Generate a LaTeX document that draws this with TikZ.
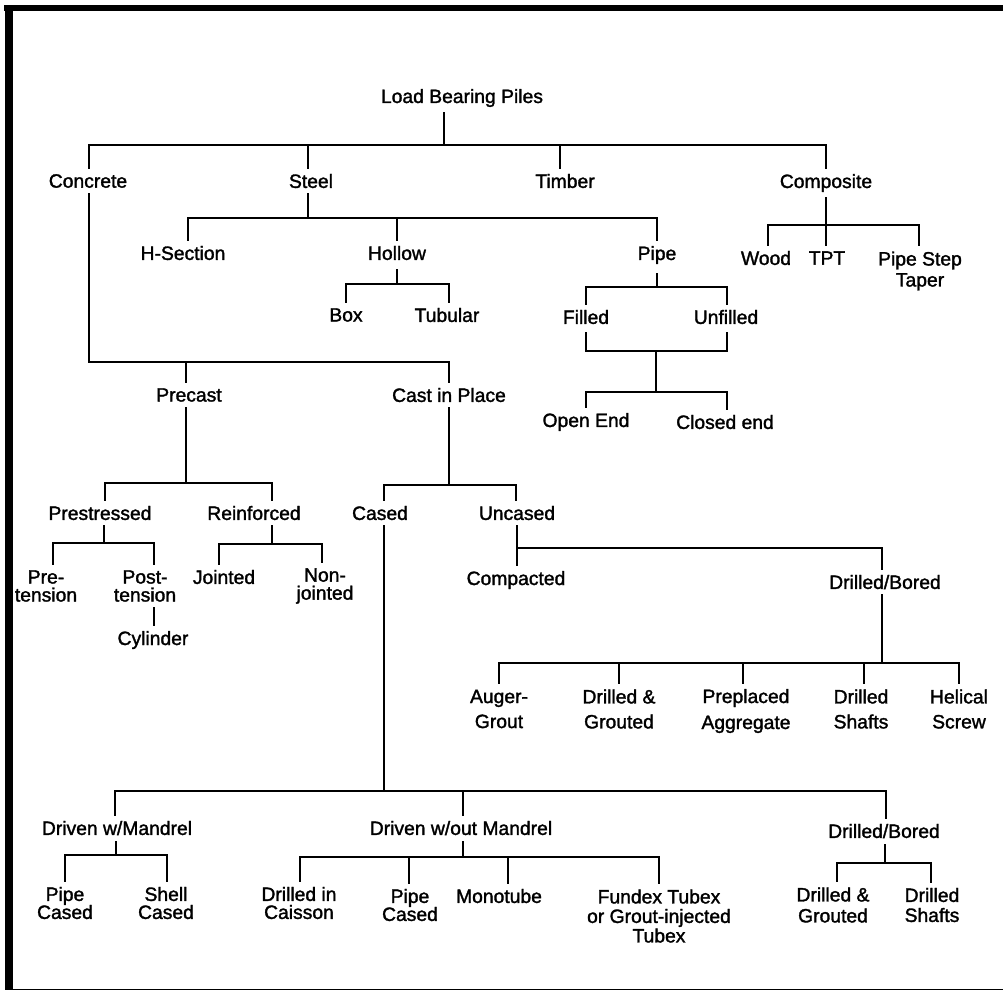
\documentclass[tikz,border=0pt]{standalone}
\usepackage{fontspec}
\newfontfamily\lblfont{Liberation Sans}[BoldFont=Liberation Sans, BoldFeatures={FakeBold=1.6}]
\newcommand\mydrop[2]{\draw[ln] (#1.north -| #2) -- (#2);}
\newcommand\myrise[2]{\draw[ln] (#1.south -| #2) -- (#2);}
\begin{document}
\begin{tikzpicture}[x=1pt,y=-1pt,
  lab/.style={font=\lblfont\bfseries\fontsize{19.3}{#1}\selectfont, inner sep=0pt, outer ysep=6pt, align=center},
  lab/.default=19,
  ln/.style={line width=1.2pt, line cap=rect}]
\useasboundingbox (0,0) rectangle (1003,991);
% frame
\fill (4,5) rectangle (1003,11);
\fill (5,5) rectangle (13,990);
\draw[line width=1.6pt] (13,989.5) -- (1003,989.5);

% ---------- nodes ----------
\node[lab] (lbp) at (462,98) {Load Bearing Piles};
\node[lab] (concrete) at (88,181) {Concrete};
\node[lab] (steel) at (311,181) {Steel};
\node[lab] (timber) at (565,181) {Timber};
\node[lab] (composite) at (826,183) {Composite};

\node[lab] (hsec) at (183,253) {H-Section};
\node[lab] (hollow) at (397,253) {Hollow};
\node[lab] (pipe) at (657,255) {Pipe};
\node[lab] (wood) at (766,258) {Wood};
\node[lab] (tpt) at (827,258) {TPT};
\node[lab=21] (pipestep) at (920,271) {Pipe Step\\Taper};

\node[lab] (box) at (346,315) {Box};
\node[lab] (tubular) at (447,315) {Tubular};
\node[lab] (filled) at (586,317) {Filled};
\node[lab] (unfilled) at (726,317) {Unfilled};
\node[lab] (openend) at (586,422) {Open End};
\node[lab] (closedend) at (725,422) {Closed end};

\node[lab] (precast) at (189,395) {Precast};
\node[lab] (cip) at (449,395) {Cast in Place};

\node[lab] (prestressed) at (100,513) {Prestressed};
\node[lab] (reinforced) at (254,513) {Reinforced};
\node[lab] (cased) at (380,513) {Cased};
\node[lab] (uncased) at (517,513) {Uncased};

\node[lab=18] (pre) at (46,586) {Pre-\\tension};
\node[lab=18] (post) at (145,586) {Post-\\tension};
\node[lab] (cylinder) at (153,640) {Cylinder};
\node[lab] (jointed) at (224,577) {Jointed};
\node[lab=18] (nonj) at (325,586) {Non-\\jointed};

\node[lab] (compacted) at (516,580) {Compacted};
\node[lab] (db1) at (885,582) {Drilled/Bored};

\node[lab=25] (auger) at (499,709) {Auger-\\Grout};
\node[lab=25] (dg1) at (619,709) {Drilled \&\\Grouted};
\node[lab=26] (preplaced) at (746,711) {Preplaced\\Aggregate};
\node[lab=25] (ds1) at (861,709) {Drilled\\Shafts};
\node[lab=25] (helical) at (959,709) {Helical\\Screw};

\node[lab] (dwm) at (117,828) {Driven w/Mandrel};
\node[lab] (dwom) at (461,828) {Driven w/out Mandrel};
\node[lab] (db2) at (884,831) {Drilled/Bored};

\node[lab=18] (pipec1) at (65,903) {Pipe\\Cased};
\node[lab=18] (shellc) at (166,903) {Shell\\Cased};
\node[lab=18] (dic) at (299,903) {Drilled in\\Caisson};
\node[lab=18] (pipec2) at (410,905) {Pipe\\Cased};
\node[lab] (monotube) at (499,896) {Monotube};
\node[lab=19.5] (fundex) at (659,916) {Fundex Tubex\\or Grout-injected\\Tubex};
\node[lab=21] (dg2) at (833,905) {Drilled \&\\Grouted};
\node[lab=20] (ds2) at (932,905) {Drilled\\Shafts};

% ---------- connectors ----------
% Load Bearing Piles
\coordinate (jlbp) at (444,145);
\coordinate (jcon) at (89,145);
\coordinate (jste) at (308,145);
\coordinate (jtim) at (560,145);
\coordinate (jcom) at (826,145);
\myrise{lbp}{jlbp}
\draw[ln] (jcon) -- (jcom);
\mydrop{concrete}{jcon}
\mydrop{steel}{jste}
\mydrop{timber}{jtim}
\mydrop{composite}{jcom}

% Steel
\coordinate (sst) at (308,218);
\coordinate (shs) at (188,218);
\coordinate (sho) at (397,218);
\coordinate (spi) at (657,218);
\myrise{steel}{sst}
\draw[ln] (shs) -- (spi);
\mydrop{hsec}{shs}
\mydrop{hollow}{sho}
\mydrop{pipe}{spi}

% Composite
\coordinate (cwo) at (768,225);
\coordinate (ctp) at (826,225);
\coordinate (cps) at (919,225);
\myrise{composite}{ctp}
\draw[ln] (cwo) -- (cps);
\mydrop{wood}{cwo}
\mydrop{tpt}{ctp}
\mydrop{pipestep}{cps}

% Hollow
\coordinate (hho) at (397,284);
\coordinate (hbo) at (346,284);
\coordinate (htu) at (449,284);
\draw[ln] ([yshift=-4pt]hollow.south -| hho) -- (hho);
\draw[ln] (hbo) -- (htu);
\mydrop{box}{hbo}
\mydrop{tubular}{htu}

% Pipe
\coordinate (ppi) at (657,287);
\coordinate (pfi) at (586,287);
\coordinate (pun) at (727,287);
\draw[ln] ([yshift=-4pt]pipe.south -| ppi) -- (ppi);
\draw[ln] (pfi) -- (pun);
\mydrop{filled}{pfi}
\mydrop{unfilled}{pun}
\coordinate (mfi) at (586,351);
\coordinate (mun) at (727,351);
\coordinate (mmi) at (656,351);
\coordinate (nmi) at (656,392);
\coordinate (nop) at (586,392);
\coordinate (ncl) at (727,392);
\draw[ln] ([yshift=-3pt]filled.south -| mfi) -- (mfi) -- (mun) -- ([yshift=-3pt]unfilled.south -| mun);
\draw[ln] (mmi) -- (nmi);
\draw[ln] (nop) -- (ncl);
\mydrop{openend}{nop}
\mydrop{closedend}{ncl}

% Concrete
\coordinate (kco) at (89,362);
\coordinate (kpr) at (186,362);
\coordinate (kci) at (449,362);
\draw[ln] (concrete.south -| kco) -- (kco) -- (kci);
\mydrop{precast}{kpr}
\mydrop{cip}{kci}

% Precast
\coordinate (qpc) at (186,483);
\coordinate (qps) at (105,483);
\coordinate (qre) at (272,483);
\myrise{precast}{qpc}
\draw[ln] (qps) -- (qre);
\mydrop{prestressed}{qps}
\mydrop{reinforced}{qre}

% Cast in Place
\coordinate (rci) at (449,485);
\coordinate (rca) at (384,485);
\coordinate (run) at (516,485);
\myrise{cip}{rci}
\draw[ln] (rca) -- (run);
\mydrop{cased}{rca}
\mydrop{uncased}{run}

% Prestressed
\coordinate (tps) at (104,543);
\coordinate (tpr) at (53,543);
\coordinate (tpo) at (154,543);
\myrise{prestressed}{tps}
\draw[ln] (tpr) -- (tpo);
\mydrop{pre}{tpr}
\mydrop{post}{tpo}
\coordinate (tcy) at (154,620);
\draw[ln] (post.south -| tcy) -- (cylinder.north -| tcy);

% Reinforced
\coordinate (ure) at (272,544);
\coordinate (ujo) at (219,544);
\coordinate (uno) at (322,544);
\myrise{reinforced}{ure}
\draw[ln] (ujo) -- (uno);
\mydrop{jointed}{ujo}
\mydrop{nonj}{uno}

% Uncased
\coordinate (vun) at (517,548);
\coordinate (vdb) at (882,548);
\draw[ln] (uncased.south -| vun) -- (compacted.north -| vun);
\draw[ln] (vun) -- (vdb);
\mydrop{db1}{vdb}

% Drilled/Bored (uncased)
\coordinate (wdb) at (882,663);
\coordinate (wau) at (499,663);
\coordinate (wdg) at (619,663);
\coordinate (wpp) at (743,663);
\coordinate (wds) at (864,663);
\coordinate (whe) at (959,663);
\myrise{db1}{wdb}
\draw[ln] (wau) -- (whe);
\mydrop{auger}{wau}
\mydrop{dg1}{wdg}
\mydrop{preplaced}{wpp}
\mydrop{ds1}{wds}
\mydrop{helical}{whe}

% Cased
\coordinate (xca) at (384,791);
\coordinate (xdm) at (115,791);
\coordinate (xdo) at (463,791);
\coordinate (xdb) at (886,791);
\myrise{cased}{xca}
\draw[ln] (xdm) -- (xdb);
\mydrop{dwm}{xdm}
\mydrop{dwom}{xdo}
\mydrop{db2}{xdb}

% Driven w/Mandrel
\coordinate (ydm) at (116,855);
\coordinate (ypc) at (65,855);
\coordinate (ysc) at (167,855);
\myrise{dwm}{ydm}
\draw[ln] (ypc) -- (ysc);
\mydrop{pipec1}{ypc}
\mydrop{shellc}{ysc}

% Driven w/out Mandrel
\coordinate (zdo) at (463,857);
\coordinate (zdi) at (300,857);
\coordinate (zpc) at (409,857);
\coordinate (zmo) at (508,857);
\coordinate (zfu) at (659,857);
\myrise{dwom}{zdo}
\draw[ln] (zdi) -- (zfu);
\mydrop{dic}{zdi}
\mydrop{pipec2}{zpc}
\mydrop{monotube}{zmo}
\mydrop{fundex}{zfu}

% Drilled/Bored (cased)
\coordinate (adb) at (885,863);
\coordinate (adg) at (837,863);
\coordinate (ads) at (931,863);
\myrise{db2}{adb}
\draw[ln] (adg) -- (ads);
\mydrop{dg2}{adg}
\mydrop{ds2}{ads}
\end{tikzpicture}
\end{document}
